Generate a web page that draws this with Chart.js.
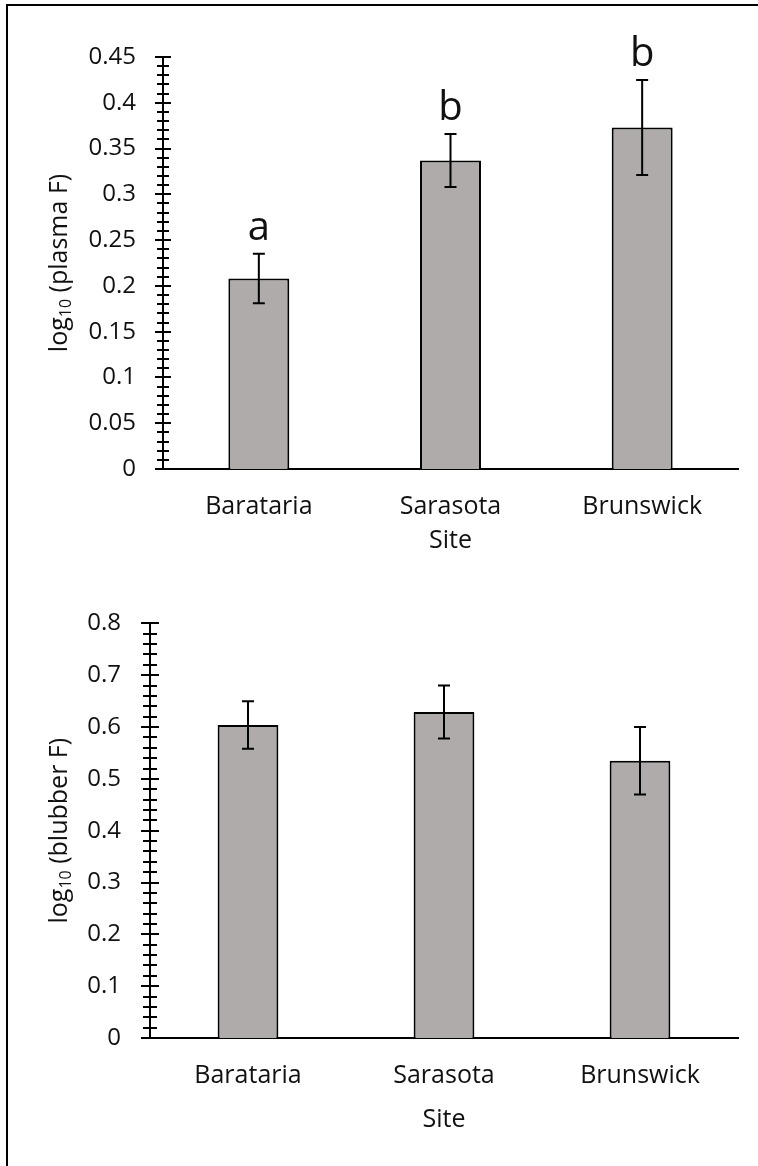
<!DOCTYPE html>
<html>
<head>
<meta charset="utf-8">
<script src="https://cdn.jsdelivr.net/npm/chart.js@4.4.0/dist/chart.umd.min.js"></script>
<style>
  html, body { margin: 0; padding: 0; background: #fff; overflow: hidden; }
  #page { position: relative; width: 758px; height: 1166px; overflow: hidden; }
  #frame-left { position: absolute; left: 6px; top: 4px; width: 2px; height: 1162px; background: #000; }
  #frame-top { position: absolute; left: 6px; top: 4px; width: 752px; height: 2px; background: #000; }
  canvas { position: absolute; left: 0; }
  #Plasma-graphic { top: 0; }
  #Blubber-graphic { top: 580px; }
</style>
</head>
<body>
<div id="page">
  <div id="frame-left"></div>
  <div id="frame-top"></div>
  <canvas id="Plasma-graphic" width="758" height="580"></canvas>
  <canvas id="Blubber-graphic" width="758" height="586"></canvas>
</div>
<script>
const sites = ['Barataria', 'Sarasota', 'Brunswick'];

const plasmaMeans = [0.208, 0.337, 0.373];
const plasmaErrors = [0.027, 0.029, 0.052];
const plasmaLetters = ['a', 'b', 'b'];
const plasmaTicks = [0, 0.05, 0.1, 0.15, 0.2, 0.25, 0.3, 0.35, 0.4, 0.45];

const blubberMeans = [0.604, 0.629, 0.535];
const blubberErrors = [0.046, 0.051, 0.065];
const blubberLetters = [];
const blubberTicks = [0, 0.1, 0.2, 0.3, 0.4, 0.5, 0.6, 0.7, 0.8];

const textColor = '#111';
const barGray = '#afabab';
Chart.defaults.font.family = "'Open Sans', sans-serif";
Chart.defaults.color = textColor;

// desenha barras de erro, letras, ticks menores e titulo do eixo y (com subscrito)
function extras(means, errors, letters, minorStep, majorHalf, minorHalf, yName) {
  return {
    id: 'extras',
    afterDatasetsDraw(chart) {
      const ctx = chart.ctx;
      const y = chart.scales.y;
      const meta = chart.getDatasetMeta(0);
      ctx.save();
      ctx.strokeStyle = '#000';
      ctx.lineWidth = 2;
      meta.data.forEach((bar, i) => {
        const hi = y.getPixelForValue(means[i] + errors[i]);
        const lo = y.getPixelForValue(means[i] - errors[i]);
        ctx.beginPath();
        ctx.moveTo(bar.x, hi); ctx.lineTo(bar.x, lo);
        ctx.moveTo(bar.x - 6, hi); ctx.lineTo(bar.x + 6, hi);
        ctx.moveTo(bar.x - 6, lo); ctx.lineTo(bar.x + 6, lo);
        ctx.stroke();
        if (letters[i]) {
          ctx.fillStyle = textColor;
          ctx.font = "40px 'Open Sans'";
          ctx.textAlign = 'center';
          ctx.textBaseline = 'alphabetic';
          ctx.fillText(letters[i], bar.x, hi - 14);
        }
      });
      ctx.restore();
    },
    afterDraw(chart) {
      const ctx = chart.ctx;
      const y = chart.scales.y;
      const area = chart.chartArea;
      const axisX = area.left;
      const ticks = y.ticks.map(t => t.value);
      const n = Math.round(y.max / minorStep);
      ctx.save();
      ctx.strokeStyle = '#000';
      ctx.lineWidth = 2;
      ctx.beginPath();
      for (let i = 0; i <= n; i++) {
        const v = i * minorStep;
        const py = Math.round(y.getPixelForValue(v));
        const isMajor = ticks.some(t => Math.abs(t - v) < 1e-9);
        const h = isMajor ? majorHalf : minorHalf;
        ctx.moveTo(axisX - h, py);
        ctx.lineTo(axisX + h, py);
      }
      ctx.stroke();

      // titulo do eixo y
      const big = "25px 'Open Sans'";
      const small = "16px 'Open Sans'";
      ctx.font = big; const w1 = ctx.measureText('log').width;
      ctx.font = small; const w2 = ctx.measureText('10').width;
      ctx.font = big; const w3 = ctx.measureText(yName).width;
      const total = w1 + w2 + w3;
      ctx.translate(60, (area.top + area.bottom) / 2);
      ctx.rotate(-Math.PI / 2);
      ctx.fillStyle = textColor;
      ctx.textBaseline = 'middle';
      ctx.textAlign = 'left';
      const x0 = -total / 2;
      ctx.font = big; ctx.fillText('log', x0, 0);
      ctx.font = small; ctx.fillText('10', x0 + w1, 6);
      ctx.font = big; ctx.fillText(yName, x0 + w1 + w2, 0);
      ctx.restore();
    }
  };
}

function makeChart(el, means, errors, letters, ticks, minorStep, opts) {
  const maxVal = ticks[ticks.length - 1];
  const step = ticks[1] - ticks[0];
  return new Chart(el, {
    type: 'bar',
    data: {
      labels: sites,
      datasets: [{
        data: means,
        backgroundColor: barGray,
        borderColor: '#000',
        borderWidth: 2,
        barPercentage: opts.barPct,
        categoryPercentage: 1
      }]
    },
    options: {
      responsive: false,
      animation: false,
      layout: { padding: { top: opts.top, right: 20, left: 0, bottom: 0 } },
      plugins: { legend: { display: false }, tooltip: { enabled: false } },
      scales: {
        x: {
          grid: { display: false, drawTicks: false },
          border: { display: true, color: '#000', width: 2 },
          ticks: { color: textColor, font: { size: 25 }, padding: 23 },
          title: { display: true, text: 'Site', color: textColor, font: { size: 25 },
                   padding: { top: 0, bottom: opts.titlePad } },
          afterFit(scale) { scale.height = opts.xHeight; }
        },
        y: {
          min: 0,
          max: maxVal,
          grid: { display: false, drawTicks: false },
          border: { display: true, color: '#000', width: 2 },
          ticks: {
            stepSize: step,
            color: textColor,
            font: { size: 24 },
            padding: opts.tickPad,
            callback: v => String(+v.toFixed(2))
          },
          afterFit(scale) { scale.width = opts.yWidth; }
        }
      }
    },
    plugins: [extras(means, errors, letters, minorStep, opts.majorHalf, opts.minorHalf, opts.yName)]
  });
}

makeChart(document.getElementById('Plasma-graphic'), plasmaMeans, plasmaErrors, plasmaLetters,
  plasmaTicks, 0.01,
  { top: 57, xHeight: 111, yWidth: 163, tickPad: 27, titlePad: 24, barPct: 0.318,
    majorHalf: 8, minorHalf: 6, yName: ' (plasma F)' });

makeChart(document.getElementById('Blubber-graphic'), blubberMeans, blubberErrors, blubberLetters,
  blubberTicks, 0.02,
  { top: 43, xHeight: 128, yWidth: 150, tickPad: 29, titlePad: 31, barPct: 0.31,
    majorHalf: 9, minorHalf: 7, yName: ' (blubber F)' });
</script>
</body>
</html>
